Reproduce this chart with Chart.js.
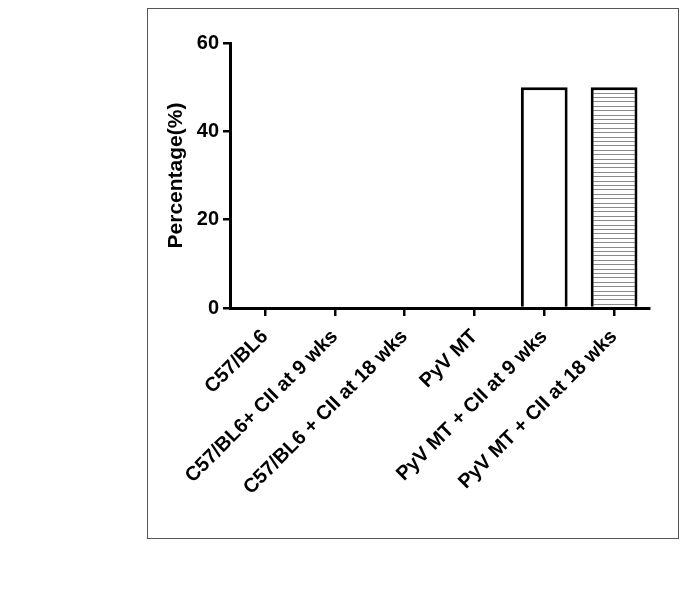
<!DOCTYPE html>
<html>
<head>
<meta charset="utf-8">
<script src="https://cdn.jsdelivr.net/npm/chart.js@4"></script>
<style>
  body { margin: 0; background: #fff; }
  #frame {
    position: absolute; left: 147px; top: 8px;
    width: 530px; height: 529px;
    border: 1.5px solid #555;
  }
  #chart { display: block; }
</style>
</head>
<body>
<div id="frame"><canvas id="chart" width="530" height="529"></canvas></div>
<script>
const categories = [
  'C57/BL6',
  'C57/BL6+ CII at 9 wks',
  'C57/BL6 + CII at 18 wks',
  'PyV MT',
  'PyV MT + CII at 9 wks',
  'PyV MT + CII at 18 wks'
];
const percentages = [0, 0, 0, 0, 50, 50];
const yTicks = [0, 20, 40, 60];

// horizontal stripes for the last bar
function stripePattern() {
  const c = document.createElement('canvas');
  c.width = 8; c.height = 22;
  const ctx = c.getContext('2d');
  ctx.fillStyle = '#fff';
  ctx.fillRect(0, 0, 8, 22);
  ctx.fillStyle = '#8a8a8a';
  [0, 4, 9, 13, 18].forEach(y => ctx.fillRect(0, y, 8, 1));
  return ctx.createPattern(c, 'repeat');
}

const fills = percentages.map((v, i) => i === 5 ? stripePattern() : '#fff');

const font = { family: 'Liberation Sans, Arial, sans-serif', weight: 'bold' };

new Chart(document.getElementById('chart'), {
  type: 'bar',
  data: {
    labels: categories,
    datasets: [{
      data: percentages,
      backgroundColor: fills,
      borderColor: '#000',
      borderWidth: 3,
      borderSkipped: 'bottom',
      barPercentage: 0.67,
      categoryPercentage: 1
    }]
  },
  options: {
    responsive: false,
    animation: false,
    layout: { padding: { left: 0, top: 34, right: 29, bottom: 0 } },
    plugins: { legend: { display: false }, tooltip: { enabled: false } },
    scales: {
      x: {
        offset: true,
        grid: { display: true, drawOnChartArea: false, drawTicks: true, tickLength: 8, lineWidth: 2.5, color: '#000', offset: false },
        border: { display: true, width: 3, color: '#000' },
        ticks: {
          color: '#000', font: { ...font, size: 20 },
          maxRotation: 45, minRotation: 45, padding: 9
        },
        afterFit: s => { s.height = 230; }
      },
      y: {
        min: 0, max: 60,
        afterBuildTicks: s => { s.ticks = yTicks.map(v => ({ value: v })); },
        grid: { display: true, drawOnChartArea: false, drawTicks: true, tickLength: 7, lineWidth: 2.5, color: '#000' },
        border: { display: true, width: 3, color: '#000' },
        ticks: { color: '#000', font: { ...font, size: 20 }, padding: 4 },
        title: {
          display: true, text: 'Percentage(%)', color: '#000',
          font: { ...font, size: 21 }, padding: { top: 16, bottom: 6 }
        },
        afterFit: s => { s.width = 82; }
      }
    }
  }
});
</script>
</body>
</html>
